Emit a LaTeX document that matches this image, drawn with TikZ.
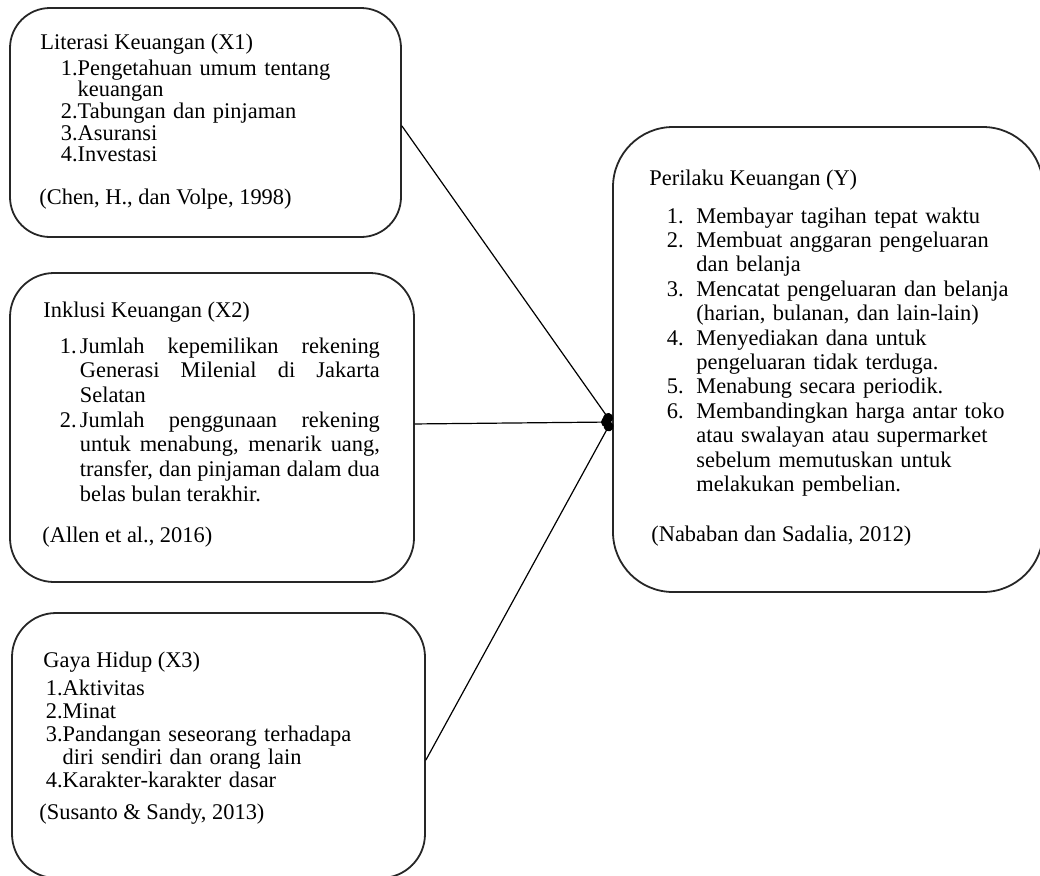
\documentclass[tikz,border=0pt]{standalone}
\usepackage{fontspec}
\setmainfont{Liberation Serif}
\usetikzlibrary{arrows.meta,fit}
\setlength{\parindent}{0pt}

\newlength{\numwd}
\newcommand{\numitem}[2][0pt]{\settowidth{\numwd}{#2}\ifdim#1>\numwd\numwd=#1\fi
  \hangindent=\numwd\hangafter=1\noindent\makebox[\numwd][l]{#2}\ignorespaces}

\tikzset{
  varbox/.style={draw=black!85, line width=0.9pt, rounded corners=#1, inner sep=0pt},
  vartext/.style={anchor=base west, inner sep=0pt, font=\fontsize{11.2pt}{#1}\selectfont},
  link/.style={line width=0.6pt, -{Circle[length=5pt]}},
}

\begin{document}
\begin{tikzpicture}[x=0.5pt, y=-0.5pt, line cap=round, line join=round]
  \useasboundingbox (0,0) rectangle (1040,875);
  % --- box X1 (top-left) ---
  \coordinate (X1-tl) at (10,8);
  \coordinate (X1-br) at (401,237);
  % --- box X2 (middle-left) ---
  \coordinate (X2-tl) at (10,273);
  \coordinate (X2-br) at (414,582);
  % --- box X3 (bottom-left, runs off the page) ---
  \coordinate (X3-tl) at (12,613);
  \coordinate (X3-br) at (425,878);
  % --- box Y (right) ---
  \coordinate (Y-tl) at (613,127);
  \coordinate (Y-br) at (1043,592);
  % --- where the three links meet ---
  \coordinate (hub) at (611,422);

  % === boxes ===
  \node[varbox=20pt, fit=(X1-tl)(X1-br)] (X1) {};
  \node[varbox=22pt, fit=(X2-tl)(X2-br)] (X2) {};
  \node[varbox=22pt, fit=(X3-tl)(X3-br)] (X3) {};
  \node[varbox=30pt, fit=(Y-tl)(Y-br)] (Y) {};

  % === X1 ===
  \node[vartext=10.85pt] (X1-title) at (40,49) {Literasi Keuangan (X1)};
  \node[vartext=10.85pt, text width=170pt, align=left] (X1-list) at (60.5,75) {%
    \numitem{1.}Pengetahuan umum tentang\newline keuangan\par
    \numitem{2.}Tabungan dan pinjaman\par
    \numitem{3.}Asuransi\par
    \numitem{4.}Investasi\par};
  \node[vartext=10.85pt] (X1-cite) at (39,204) {(Chen, H., dan Volpe, 1998)};

  % === X2 ===
  \node[vartext=12.35pt] (X2-title) at (43,317) {Inklusi Keuangan (X2)};
  \node[vartext=12.35pt, text width=160pt, align=justify] (X2-list) at (59.5,353) {%
    \numitem[10pt]{1.}Jumlah kepemilikan rekening\linebreak Generasi Milenial di Jakarta\linebreak Selatan\par
    \numitem[10pt]{2.}Jumlah penggunaan rekening\linebreak untuk menabung, menarik uang,\linebreak
      transfer, dan pinjaman dalam dua\linebreak belas bulan terakhir.\par};
  \node[vartext=12.35pt] (X2-cite) at (42,542) {(Allen et al., 2016)};

  % === X3 ===
  \node[vartext=11.5pt] (X3-title) at (43,667) {Gaya Hidup (X3)};
  \node[vartext=11.5pt, text width=175pt, align=left] (X3-list) at (45.5,695) {%
    \numitem{1.}Aktivitas\par
    \numitem{2.}Minat\par
    \numitem{3.}Pandangan seseorang terhadapa\newline diri sendiri dan orang lain\par
    \numitem{4.}Karakter-karakter dasar\par};
  \node[vartext=11.5pt] (X3-cite) at (39,819) {(Susanto \& Sandy, 2013)};

  % === Y ===
  \node[vartext=12.2pt] (Y-title) at (649,185) {Perilaku Keuangan (Y)};
  \node[vartext=12.2pt, text width=185pt, align=left] (Y-list) at (666.5,223) {%
    \numitem[14.75pt]{1.}Membayar tagihan tepat waktu\par
    \numitem[14.75pt]{2.}Membuat anggaran pengeluaran\newline dan belanja\par
    \numitem[14.75pt]{3.}Mencatat pengeluaran dan belanja\newline (harian, bulanan, dan lain-lain)\par
    \numitem[14.75pt]{4.}Menyediakan dana untuk\newline pengeluaran tidak terduga.\par
    \numitem[14.75pt]{5.}Menabung secara periodik.\par
    \numitem[14.75pt]{6.}Membandingkan harga antar toko\newline atau swalayan atau supermarket\newline
      sebelum memutuskan untuk\newline melakukan pembelian.\par};
  \node[vartext=12.2pt] (Y-cite) at (651,541) {(Nababan dan Sadalia, 2012)};

  % === links into Y ===
  \draw[link] (X1.-1.3) -- (hub);
  \draw[link] (X2.1.6) -- (hub);
  \draw[link] (X3.-4.8) -- (hub);
\end{tikzpicture}
\end{document}
